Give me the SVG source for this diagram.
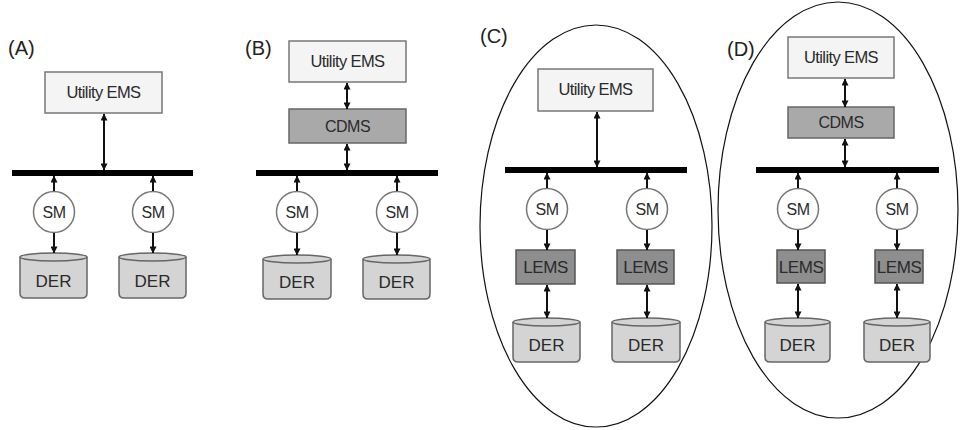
<svg xmlns="http://www.w3.org/2000/svg" width="960" height="430" viewBox="0 0 960 430">
<defs>
<marker id="ah" viewBox="0 0 8 8" refX="7.5" refY="4" markerWidth="7" markerHeight="7" markerUnits="userSpaceOnUse" orient="auto-start-reverse">
<path d="M0,0 L8,4 L0,8 z" fill="#111"/>
</marker>
<style>
text{font-family:"Liberation Sans",Arial,sans-serif;fill:#2a2a2a;text-anchor:middle}
.lbl{font-size:20px;text-anchor:start;fill:#222}
.ems{fill:#f4f4f4;stroke:#777;stroke-width:1.5}
.cdms{fill:#a9a9a9;stroke:#666;stroke-width:1.5}
.lems{fill:#8e8e8e;stroke:#555;stroke-width:1.5}
.der{fill:#d4d4d4;stroke:#666;stroke-width:1.5}
.sm{fill:#fff;stroke:#777;stroke-width:1.5}
.bus{fill:#000}
.enc{fill:none;stroke:#111;stroke-width:1.2}
.t-ems{font-size:16.5px;letter-spacing:-0.6px}
.t-sm{font-size:16px;letter-spacing:-0.5px}
.t-der{font-size:17px}
.t-cdms{font-size:16px;letter-spacing:-0.5px}
.t-lems{font-size:17px;letter-spacing:-0.4px}
.c1{stroke:#111;stroke-width:2;fill:none;marker-end:url(#ah)}
.c2{stroke:#111;stroke-width:2;fill:none;marker-end:url(#ah);marker-start:url(#ah)}
</style>
</defs>

<!-- Panel labels and enclosures -->
<g id="labels">
<text class="lbl" x="8" y="55">(A)</text>
<text class="lbl" x="245" y="55">(B)</text>
<text class="lbl" x="480" y="43">(C)</text>
<text class="lbl" x="727" y="56">(D)</text>
</g>
<ellipse id="enclosureC" class="enc" cx="596" cy="226" rx="116" ry="201"/>
<ellipse id="enclosureD" class="enc" cx="838" cy="210" rx="120" ry="208"/>

<!-- Panel A -->
<g id="A-ems"><rect class="ems" x="45" y="72" width="117" height="41"/><text class="t-ems" x="103.5" y="98">Utility EMS</text></g>
<g id="A-bus"><rect class="bus" x="12" y="170" width="181" height="6"/></g>
<g id="A-sm1"><circle class="sm" cx="54" cy="212" r="20.5"/><text class="t-sm" x="54" y="218">SM</text></g>
<g id="A-sm2"><circle class="sm" cx="153" cy="212" r="20.5"/><text class="t-sm" x="153" y="218">SM</text></g>
<g id="A-der1"><path class="der" d="M20,257 V293 Q20,298 25,298 H82 Q87,298 87,293 V257"/><ellipse class="der" cx="53.5" cy="257" rx="33.5" ry="4"/><text class="t-der" x="53.5" y="287">DER</text></g>
<g id="A-der2"><path class="der" d="M119,257 V293 Q119,298 124,298 H181 Q186,298 186,293 V257"/><ellipse class="der" cx="152.5" cy="257" rx="33.5" ry="4"/><text class="t-der" x="152.5" y="287">DER</text></g>

<!-- Panel B -->
<g id="B-ems"><rect class="ems" x="289" y="41" width="117" height="41"/><text class="t-ems" x="347.5" y="67">Utility EMS</text></g>
<g id="B-cdms"><rect class="cdms" x="289" y="109" width="117" height="34"/><text class="t-cdms" x="347.5" y="132">CDMS</text></g>
<g id="B-bus"><rect class="bus" x="256" y="170" width="182" height="6"/></g>
<g id="B-sm1"><circle class="sm" cx="297" cy="212" r="20.5"/><text class="t-sm" x="297" y="218">SM</text></g>
<g id="B-sm2"><circle class="sm" cx="397" cy="212" r="20.5"/><text class="t-sm" x="397" y="218">SM</text></g>
<g id="B-der1"><path class="der" d="M263,259 V294 Q263,299 268,299 H326 Q331,299 331,294 V259"/><ellipse class="der" cx="297" cy="259" rx="34" ry="4"/><text class="t-der" x="297" y="288">DER</text></g>
<g id="B-der2"><path class="der" d="M363,259 V294 Q363,299 368,299 H425 Q430,299 430,294 V259"/><ellipse class="der" cx="396.5" cy="259" rx="33.5" ry="4"/><text class="t-der" x="396.5" y="288">DER</text></g>

<!-- Panel C -->
<g id="C-ems"><rect class="ems" x="538" y="69" width="115" height="42"/><text class="t-ems" x="595.5" y="95">Utility EMS</text></g>
<g id="C-bus"><rect class="bus" x="505" y="167" width="182" height="6"/></g>
<g id="C-sm1"><circle class="sm" cx="547" cy="209" r="20.5"/><text class="t-sm" x="547" y="215">SM</text></g>
<g id="C-sm2"><circle class="sm" cx="647" cy="209" r="20.5"/><text class="t-sm" x="647" y="215">SM</text></g>
<g id="C-lems1"><rect class="lems" x="516" y="250" width="59" height="34"/><text class="t-lems" x="545.5" y="273">LEMS</text></g>
<g id="C-lems2"><rect class="lems" x="617" y="250" width="57" height="34"/><text class="t-lems" x="645.5" y="273">LEMS</text></g>
<g id="C-der1"><path class="der" d="M513,322 V357 Q513,362 518,362 H575 Q580,362 580,357 V322"/><ellipse class="der" cx="546.5" cy="322" rx="33.5" ry="4"/><text class="t-der" x="546.5" y="351">DER</text></g>
<g id="C-der2"><path class="der" d="M612,322 V357 Q612,362 617,362 H675 Q680,362 680,357 V322"/><ellipse class="der" cx="646" cy="322" rx="34" ry="4"/><text class="t-der" x="646" y="351">DER</text></g>

<!-- Panel D -->
<g id="D-ems"><rect class="ems" x="788" y="37" width="106" height="41"/><text class="t-ems" x="841" y="63">Utility EMS</text></g>
<g id="D-cdms"><rect class="cdms" x="788" y="107" width="106" height="31"/><text class="t-cdms" x="841" y="128">CDMS</text></g>
<g id="D-bus"><rect class="bus" x="756" y="167" width="183" height="6"/></g>
<g id="D-sm1"><circle class="sm" cx="798" cy="209" r="20.5"/><text class="t-sm" x="798" y="215">SM</text></g>
<g id="D-sm2"><circle class="sm" cx="897" cy="209" r="20.5"/><text class="t-sm" x="897" y="215">SM</text></g>
<g id="D-lems1"><rect class="lems" x="777" y="250" width="48" height="33"/><text class="t-lems" x="801" y="273">LEMS</text></g>
<g id="D-lems2"><rect class="lems" x="875" y="250" width="48" height="33"/><text class="t-lems" x="899" y="273">LEMS</text></g>
<g id="D-der1"><path class="der" d="M765,322 V357 Q765,362 770,362 H825 Q830,362 830,357 V322"/><ellipse class="der" cx="797.5" cy="322" rx="32.5" ry="4"/><text class="t-der" x="797.5" y="351">DER</text></g>
<g id="D-der2"><path class="der" d="M864,322 V357 Q864,362 869,362 H925 Q930,362 930,357 V322"/><ellipse class="der" cx="897" cy="322" rx="33" ry="4"/><text class="t-der" x="897" y="351">DER</text></g>

<!-- Connectors -->
<g id="connectors">
<line class="c2" x1="104" y1="114" x2="104" y2="170"/>
<line class="c1" x1="54" y1="191" x2="54" y2="176"/>
<line class="c1" x1="153" y1="191" x2="153" y2="176"/>
<line class="c1" x1="54" y1="233" x2="54" y2="253"/>
<line class="c1" x1="153" y1="233" x2="153" y2="253"/>

<line class="c2" x1="347" y1="83" x2="347" y2="109"/>
<line class="c2" x1="347" y1="144" x2="347" y2="170"/>
<line class="c1" x1="297" y1="191" x2="297" y2="176"/>
<line class="c1" x1="397" y1="191" x2="397" y2="176"/>
<line class="c1" x1="297" y1="233" x2="297" y2="255"/>
<line class="c1" x1="397" y1="233" x2="397" y2="255"/>

<line class="c2" x1="597" y1="112" x2="597" y2="167"/>
<line class="c1" x1="547" y1="188" x2="547" y2="173"/>
<line class="c1" x1="647" y1="188" x2="647" y2="173"/>
<line class="c1" x1="547" y1="230" x2="547" y2="250"/>
<line class="c1" x1="647" y1="230" x2="647" y2="250"/>
<line class="c2" x1="547" y1="285" x2="547" y2="318"/>
<line class="c2" x1="647" y1="285" x2="647" y2="318"/>

<line class="c2" x1="845" y1="79" x2="845" y2="107"/>
<line class="c2" x1="845" y1="139" x2="845" y2="167"/>
<line class="c1" x1="798" y1="188" x2="798" y2="173"/>
<line class="c1" x1="897" y1="188" x2="897" y2="173"/>
<line class="c1" x1="798" y1="230" x2="798" y2="250"/>
<line class="c1" x1="897" y1="230" x2="897" y2="250"/>
<line class="c2" x1="798" y1="284" x2="798" y2="318"/>
<line class="c2" x1="897" y1="284" x2="897" y2="318"/>
</g>
</svg>
